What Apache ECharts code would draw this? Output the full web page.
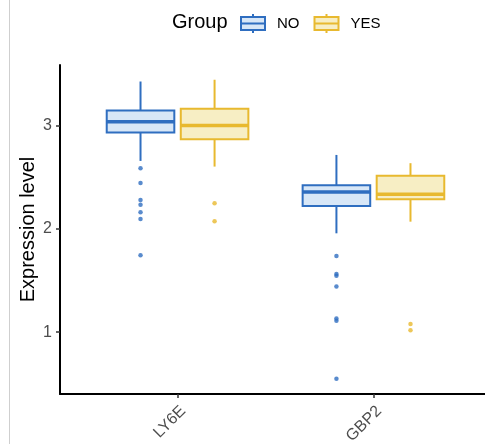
<!DOCTYPE html>
<html>
<head>
<meta charset="utf-8">
<script src="https://cdn.jsdelivr.net/npm/echarts@6/dist/echarts.min.js"></script>
<style>
  html, body { margin: 0; padding: 0; background: #fff; }
  #chart { width: 485px; height: 444px; }
</style>
</head>
<body>
<div id="chart"></div>
<script>
// categories on the x axis (positions 1, 2)
const genes = ['LY6E', 'GBP2'];
const groups = ['NO', 'YES'];

// [min, Q1, median, Q3, max] per gene
const statsNO = [
    [2.66, 2.935, 3.04, 3.149, 3.43],
    [1.958, 2.223, 2.359, 2.424, 2.718]
];
const statsYES = [
    [2.605, 2.87, 3.003, 3.165, 3.447],
    [2.071, 2.288, 2.337, 2.515, 2.638]
];

// outliers per gene
const outliersNO = [
    [2.589, 2.447, 2.282, 2.236, 2.162, 2.097, 1.745],
    [1.738, 1.563, 1.547, 1.443, 1.133, 1.110, 0.547]
];
const outliersYES = [
    [2.25, 2.075],
    [1.078, 1.017]
];

const yTicks = [1, 2, 3];

const DODGE = 0.189;      // half distance between dodged boxes, axis units
const BOX_W = 0.345;      // box width, axis units
const BLUE = '#2f6ec0', BLUE_FILL = '#d8e7f7';
const GOLD = '#e8b92f', GOLD_FILL = '#f7eec4';

function boxData(stats) {
    return stats.map((s, i) => [i + 1].concat(s));
}

function outlierData(list, shift) {
    const out = [];
    list.forEach((vals, i) => {
        vals.forEach(v => out.push([i + 1 + shift, v]));
    });
    return out;
}

function boxRenderer(shift, stroke, fill) {
    return function (params, api) {
        const pos = api.value(0) + shift;
        const lo = api.coord([pos, api.value(1)]);
        const q1 = api.coord([pos, api.value(2)]);
        const med = api.coord([pos, api.value(3)]);
        const q3 = api.coord([pos, api.value(4)]);
        const hi = api.coord([pos, api.value(5)]);
        const w = api.size([BOX_W, 0])[0];
        const x = lo[0];
        return {
            type: 'group',
            children: [
                { type: 'line', shape: { x1: x, y1: hi[1], x2: x, y2: q3[1] }, style: { stroke: stroke, lineWidth: 2 } },
                { type: 'line', shape: { x1: x, y1: q1[1], x2: x, y2: lo[1] }, style: { stroke: stroke, lineWidth: 2 } },
                { type: 'rect', shape: { x: x - w / 2, y: q3[1], width: w, height: q1[1] - q3[1] }, style: { fill: fill, stroke: stroke, lineWidth: 2 } },
                { type: 'line', shape: { x1: x - w / 2, y1: med[1], x2: x + w / 2, y2: med[1] }, style: { stroke: stroke, lineWidth: 3.5 } }
            ]
        };
    };
}

const legendIcon = 'path://M0,3 L24,3 L24,16 L0,16 Z M0,9.5 L24,9.5 M12,0 L12,3 M12,16 L12,19';

const chart = echarts.init(document.getElementById('chart'), null, { renderer: 'canvas' });

chart.setOption({
    animation: false,
    backgroundColor: '#fff',
    textStyle: { fontFamily: 'Liberation Sans' },
    title: {
        text: 'Group',
        left: 172,
        top: 12,
        padding: 0,
        textStyle: { fontSize: 20, fontWeight: 'normal', color: '#000', fontFamily: 'Liberation Sans' }
    },
    legend: {
        left: 240,
        top: 13,
        padding: 0,
        itemWidth: 24,
        itemHeight: 19,
        itemGap: 14,
        textStyle: { fontSize: 15, color: '#000', padding: [0, 0, 0, 7] },
        data: [
            { name: 'NO', icon: legendIcon, itemStyle: { color: BLUE_FILL, borderColor: BLUE, borderWidth: 2 } },
            { name: 'YES', icon: legendIcon, itemStyle: { color: GOLD_FILL, borderColor: GOLD, borderWidth: 2 } }
        ]
    },
    grid: {
        left: 60,
        right: -6,
        top: 65,
        bottom: 50,
        outerBoundsMode: 'none'
    },
    xAxis: {
        type: 'value',
        min: 0.4,
        max: 2.6,
        splitLine: { show: false },
        axisLine: { show: true, lineStyle: { color: '#000', width: 2 } },
        axisTick: { show: true, customValues: [1, 2], length: 4, lineStyle: { color: '#333', width: 1.5 } },
        axisLabel: {
            customValues: [1, 2],
            formatter: v => genes[Math.round(v) - 1],
            rotate: 45,
            margin: 9,
            verticalAlign: 'top',
            fontSize: 16,
            color: '#4d4d4d'
        }
    },
    yAxis: {
        type: 'value',
        min: 0.4,
        max: 3.59,
        name: 'Expression level',
        nameLocation: 'middle',
        nameGap: 22,
        nameMoveOverlap: false,
        nameTextStyle: { fontSize: 20, color: '#000' },
        splitLine: { show: false },
        axisLine: { show: true, lineStyle: { color: '#000', width: 2 } },
        axisTick: { show: true, customValues: yTicks, length: 4, lineStyle: { color: '#333', width: 1.5 } },
        axisLabel: { customValues: yTicks, margin: 8, fontSize: 16, color: '#4d4d4d' }
    },
    graphic: [{
        type: 'line',
        shape: { x1: 9.5, y1: 0, x2: 9.5, y2: 444 },
        style: { stroke: '#cfcfcf', lineWidth: 1 },
        silent: true
    }],
    series: [
        {
            name: 'NO', type: 'custom', clip: false,
            renderItem: boxRenderer(-DODGE, BLUE, BLUE_FILL),
            encode: { x: 0, y: [1, 2, 3, 4, 5] },
            itemStyle: { color: BLUE },
            data: boxData(statsNO)
        },
        {
            name: 'YES', type: 'custom', clip: false,
            renderItem: boxRenderer(DODGE, GOLD, GOLD_FILL),
            encode: { x: 0, y: [1, 2, 3, 4, 5] },
            itemStyle: { color: GOLD },
            data: boxData(statsYES)
        },
        {
            name: 'NO', type: 'scatter', symbolSize: 4.5,
            itemStyle: { color: BLUE },
            data: outlierData(outliersNO, -DODGE)
        },
        {
            name: 'YES', type: 'scatter', symbolSize: 4.5,
            itemStyle: { color: GOLD },
            data: outlierData(outliersYES, DODGE)
        }
    ]
});
</script>
</body>
</html>
